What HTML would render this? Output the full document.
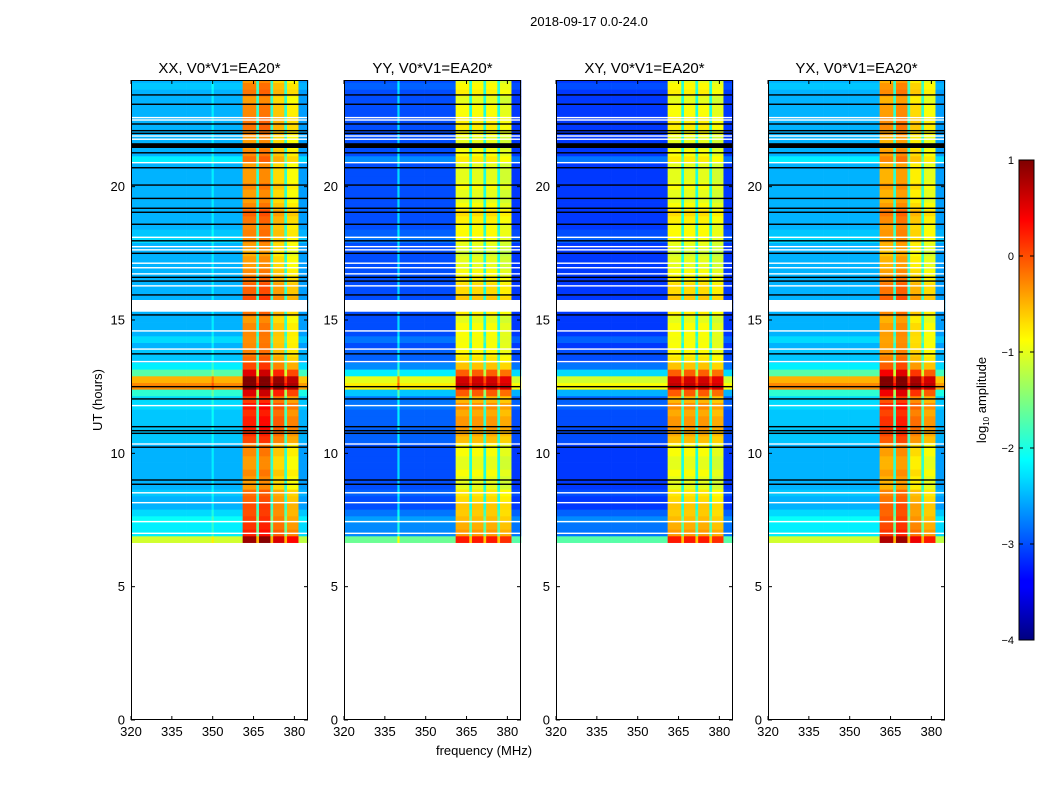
<!DOCTYPE html>
<html><head><meta charset="utf-8"><style>
body{margin:0;background:#fff;}
svg{display:block;font-family:"Liberation Sans",sans-serif;}
</style></head><body>
<svg id="fig" width="1050" height="800" viewBox="0 0 1050 800">
<rect width="1050" height="800" fill="#fff"/>
<text x="589" y="26" font-size="13" text-anchor="middle">2018-09-17 0.0-24.0</text>
<text x="484" y="755" font-size="13" text-anchor="middle">frequency (MHz)</text>
<text transform="translate(102,400) rotate(-90)" font-size="13" text-anchor="middle">UT (hours)</text>
<defs><linearGradient id="jet" x1="0" y1="1" x2="0" y2="0">
<stop offset="0" stop-color="#00007f"/><stop offset="0.11" stop-color="#0000ff"/><stop offset="0.125" stop-color="#0000ff"/>
<stop offset="0.34" stop-color="#00dfff"/><stop offset="0.375" stop-color="#00ffff"/><stop offset="0.5" stop-color="#7fff7f"/>
<stop offset="0.625" stop-color="#ffff00"/><stop offset="0.66" stop-color="#ffdf00"/><stop offset="0.875" stop-color="#ff0000"/><stop offset="1" stop-color="#7f0000"/>
</linearGradient></defs>
<g id="cbar">
<rect x="1019" y="160" width="15" height="480" fill="url(#jet)" stroke="#000" stroke-width="1"/>
<text transform="translate(986,400) rotate(-90)" font-size="13" text-anchor="middle">log<tspan font-size="8" dy="3">10</tspan><tspan dy="-3"> amplitude</tspan></text>
</g>
<g id="panels"></g>
</svg>
<script>
const NS="http://www.w3.org/2000/svg";
// ---- data ----
const panelTitles=["XX, V0*V1=EA20*","YY, V0*V1=EA20*","XY, V0*V1=EA20*","YX, V0*V1=EA20*"];
const segEdges=[320,339.6,340.4,349.6,350.4,361,366,367,371.2,372.2,376.3,377.3,381.5,385];
const levelsXX=[-2.5,-2.5,-2.5,-2.2,-2.5,-0.4,-1.9,-0.3,-1.9,-0.7,-1.9,-0.9,-2.6];
const levelsYY=[-3.0,-2.3,-3.0,-3.0,-3.0,-1.0,-2.0,-1.0,-2.0,-1.0,-2.0,-1.1,-3.1];
const levelsXY=[-3.1,-3.1,-3.1,-3.1,-3.1,-1.0,-2.0,-1.0,-2.0,-1.0,-2.0,-1.1,-3.1];
const levelsYX=[-2.5,-2.5,-2.5,-2.5,-2.5,-0.5,-1.9,-0.4,-1.9,-0.8,-1.9,-1.0,-2.6];
const rowStart=6.65, rowStep=0.25;
const rowBand=[0.7,0.5,0.4,0.3,0.3,0.4,0.3,0.2,0.0,0.0,0.1,0.0,0.0,0.1,0.1,0.4,0.5,0.6,0.6,0.5,0.6,0.4,0.7,0.8,0.8,0.6,0.3,0.2,0.1,0.1,0.0,0.1,0.1,0.0,0.2,0.2,0.4,0.3,0.3,0.2,0.1,0.0,0.0,-0.1,0.0,0.0,0.1,0.1,0.2,0.3,0.1,0.0,0.0,0.1,0.0,0.0,0.0,0.1,0.1,0.0,0.0,0.1,0.2,0.2,0.1,0.1,0.0,0.2,0.1,0.0];
const rowBg=[1.4,0.3,0.3,0.4,0.2,0.0,0.0,0.1,0.0,0.0,0.0,0.0,0.0,0.0,0.0,0.1,0.1,0.1,0.1,0.1,0.2,0.2,0.6,2.2,2.0,0.8,0.3,0.1,0.1,0.0,0.2,0.0,0.0,0.0,0.0,0.1,0.0,0.0,0.0,0.0,0.0,0.0,0.0,0.0,0.0,0.2,0.1,0.0,0.0,0.0,0.0,0.0,0.0,0.0,0.0,0.0,0.0,0.3,0.0,0.0,0.0,0.0,0.0,0.0,0.0,0.0,0.0,0.0,0.1,0.0];
const whiteLines=[22.59,22.5,21.9,21.78,20.9,18.1,17.75,17.63,17.13,16.96,16.73,16.28,14.59,13.91,13.44,11.79,10.35,8.52,8.15,7.44,7.0];
const blackLines=[23.44,23.09,22.35,22.1,22.0,21.27,20.71,20.06,19.56,19.19,19.04,18.59,17.97,17.5,16.6,16.46,15.94,15.19,13.73,12.5,12.04,11.0,10.85,10.75,10.23,9.0,8.84];
const blackBands=[[21.45,21.63]];
const gapBands=[[15.31,15.75]];
const xTicks=[320,335,350,365,380];
const yTicks=[0,5,10,15,20];
const cbTicks=[-4,-3,-2,-1,0,1];
const allLevels=[levelsXX,levelsYY,levelsXY,levelsYX];
// ---- helpers ----
const panelLeft=[131,344,556,768], PW=177, PT=80, PB=720;
const fmin=320,fmax=385,tmin=0,tmax=24;
function jet(v){let t=(v+4)/5;t=Math.max(0,Math.min(1,t));
 const f=x=>Math.max(0,Math.min(1,x));
 const r=f(Math.min(4*t-1.5,-4*t+4.5)),g=f(Math.min(4*t-0.5,-4*t+3.5)),b=f(Math.min(4*t+0.5,-4*t+2.5));
 return `rgb(${Math.round(r*255)},${Math.round(g*255)},${Math.round(b*255)})`;}
function mk(tag,attrs,parent){const e=document.createElementNS(NS,tag);for(const k in attrs)e.setAttribute(k,attrs[k]);parent.appendChild(e);return e;}
const root=document.getElementById('panels');
allLevels.forEach((levels,p)=>{
 const L=panelLeft[p];
 const xs=f=>L+(f-fmin)/(fmax-fmin)*PW;
 const ys=h=>PB-(h-tmin)/(tmax-tmin)*(PB-PT);
 const g=mk('g',{},root);
 
 
 rowBand.forEach((rb,r)=>{
  const h0=rowStart+r*rowStep,h1=Math.min(24,h0+rowStep);
  levels.forEach((lv,s)=>{
   const isBand=lv>-1.5;
   const v=lv+(isBand?rb:0)+rowBg[r]*(isBand?0.4:1);
   const c=mk('rect',{x:xs(segEdges[s]),y:ys(h1),width:xs(segEdges[s+1])-xs(segEdges[s])+0.3,height:ys(h0)-ys(h1)+0.3,fill:jet(v)},g);
   
   
  });
 });
 whiteLines.forEach(h=>{const e=mk('rect',{x:L,y:ys(h)-0.7,width:PW,height:1.4,fill:'#fff'},g);
  
  });
 blackLines.forEach(h=>{const e=mk('rect',{x:L,y:ys(h)-0.7,width:PW,height:1.4,fill:'#000'},g);
  
  });
 blackBands.forEach(b=>{const e=mk('rect',{x:L,y:ys(b[1]),width:PW,height:ys(b[0])-ys(b[1]),fill:'#000'},g);
  
  });
 gapBands.forEach(b=>{const e=mk('rect',{x:L,y:ys(b[1]),width:PW,height:ys(b[0])-ys(b[1]),fill:'#fff'},g);
  
  });
 const fr=mk('rect',{x:L+0.5,y:PT+0.5,width:PW-1,height:PB-PT-1,fill:'none',stroke:'#000','stroke-width':1},g);
 
 
 const t=mk('text',{x:L+PW/2,y:73,'font-size':15,'text-anchor':'middle'},g);t.textContent=panelTitles[p];
 
 
 xTicks.forEach(v=>{const x=xs(v);
  mk('line',{x1:x,x2:x,y1:PB,y2:PB-4,stroke:'#000'},g);
  mk('line',{x1:x,x2:x,y1:PT,y2:PT+4,stroke:'#000'},g);
  const e=mk('text',{x:x,y:PB+16,'font-size':13,'text-anchor':'middle'},g);e.textContent=v;
  
  });
 yTicks.forEach(v=>{const y=ys(v);
  mk('line',{x1:L,x2:L+4,y1:y,y2:y,stroke:'#000'},g);
  mk('line',{x1:L+PW,x2:L+PW-4,y1:y,y2:y,stroke:'#000'},g);
  const e=mk('text',{x:L-6,y:y+4.5,'font-size':13,'text-anchor':'end'},g);e.textContent=v;
  
  });
});
const cb=document.getElementById('cbar');
cbTicks.forEach(v=>{const y=640-(v+4)/5*480;
 mk('line',{x1:1019,x2:1023,y1:y,y2:y,stroke:'#000'},cb);
 mk('line',{x1:1034,x2:1030,y1:y,y2:y,stroke:'#000'},cb);
 const e=mk('text',{x:1014,y:y+4,'font-size':11,'text-anchor':'end'},cb);e.textContent=(v<0?'\u2212':'')+Math.abs(v);
 
 });
</script>
</body></html>
